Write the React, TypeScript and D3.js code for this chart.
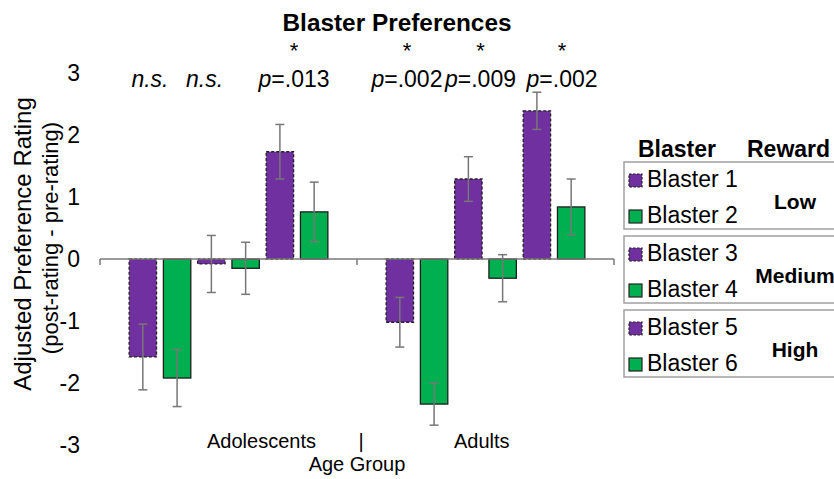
import React from 'react';
import * as d3 from 'd3';

// chart data
const groups = ['Adolescents', 'Adults'];
const blasters = ['Blaster 1', 'Blaster 2', 'Blaster 3', 'Blaster 4', 'Blaster 5', 'Blaster 6'];
const adolescentMeans = [-1.58, -1.92, -0.08, -0.15, 1.73, 0.76];
const adolescentErrors = [0.53, 0.46, 0.46, 0.42, 0.44, 0.48];
const adultMeans = [-1.02, -2.34, 1.29, -0.31, 2.39, 0.84];
const adultErrors = [0.40, 0.34, 0.36, 0.38, 0.30, 0.45];
const yTicks = [-3, -2, -1, 0, 1, 2, 3];
const rewards = ['Low', 'Medium', 'High'];
// one annotation per blaster pair, adolescents first
const pLabels = ['n.s.', 'n.s.', '.013', '.002', '.009', '.002'];
const significant = [false, false, true, true, true, true];

const PURPLE = '#7030A0';
const GREEN = '#00B050';
const FONT = '"Liberation Sans", Arial, sans-serif';

const width = 834;
const height = 479;

export default function App() {
  const x0 = d3.scaleBand().domain(groups).range([100, 614]).padding(0);
  const x1 = d3.scaleBand().domain(blasters).range([0, x0.bandwidth()])
    .paddingInner(0.2).paddingOuter(0.85);
  const y = d3.scaleLinear().domain([-3, 3]).range([445, 73]);

  const means = [adolescentMeans, adultMeans];
  const errs = [adolescentErrors, adultErrors];

  const bars = groups.flatMap((g, gi) =>
    blasters.map((b, bi) => ({ g, b, bi, v: means[gi][bi], e: errs[gi][bi] })));

  // small nudges so the annotations sit like the original's text row
  const annDx = [-10, -24, -3, -10, -5, 8];
  const annotations = pLabels.map((label, i) => {
    const g = groups[Math.floor(i / 3)];
    const pair = i % 3;
    const left = x0(g)! + x1(blasters[pair * 2])!;
    const right = x0(g)! + x1(blasters[pair * 2 + 1])! + x1.bandwidth();
    return { label, star: significant[i], cx: (left + right) / 2 + annDx[i] };
  });

  const tickXs = [x0(groups[0])!, x0(groups[1])!, x0(groups[1])! + x0.bandwidth()];
  const mid = x0(groups[1])!;

  const boxTop = 162;
  const boxH = 67;
  const boxGap = 7;

  return (
    <svg width={width} height={height} style={{ position: 'absolute', left: 0, top: 0, background: '#fff' }}
      fontFamily={FONT}>
      {/* title */}
      <text x={397} y={31} textAnchor="middle" fontWeight="bold" fontSize={23}
        textLength={229} lengthAdjust="spacingAndGlyphs">Blaster Preferences</text>

      {/* y axis title */}
      <g transform="translate(31,244) rotate(-90)">
        <text x={0} y={0} textAnchor="middle" fontSize={24}>Adjusted Preference Rating</text>
      </g>
      <g transform="translate(58,238) rotate(-90)">
        <text x={0} y={0} textAnchor="middle" fontSize={22}>(post-rating - pre-rating)</text>
      </g>

      {/* y tick labels */}
      {yTicks.map(t => (
        <text key={t} x={80} y={y(t)} dy="0.36em" textAnchor="end" fontSize={23}>{t}</text>
      ))}

      {/* bars */}
      {bars.map((d, i) => {
        const bx = x0(d.g)! + x1(d.b)!;
        const top = y(Math.max(0, d.v));
        const h = Math.abs(y(d.v) - y(0));
        const purple = d.bi % 2 === 0;
        return (
          <rect key={i} x={bx} y={top} width={x1.bandwidth()} height={h}
            fill={purple ? PURPLE : GREEN}
            stroke={purple ? '#222' : '#1e1e1e'} strokeWidth={1.3}
            strokeDasharray={purple ? '3,2' : undefined} />
        );
      })}

      {/* axis line and ticks */}
      <line x1={x0.range()[0]} x2={x0.range()[1]} y1={y(0)} y2={y(0)} stroke="#7a7a7a" strokeWidth={1.5} />
      {tickXs.map((tx, i) => (
        <line key={i} x1={tx} x2={tx} y1={y(0)} y2={y(0) + 6} stroke="#7a7a7a" strokeWidth={1.5} />
      ))}

      {/* error bars */}
      {bars.map((d, i) => {
        const cx = x0(d.g)! + x1(d.b)! + x1.bandwidth() / 2;
        const hi = y(d.v + d.e);
        const lo = y(d.v - d.e);
        return (
          <g key={i} stroke="#777" strokeWidth={1.5}>
            <line x1={cx} x2={cx} y1={hi} y2={lo} />
            <line x1={cx - 4.5} x2={cx + 4.5} y1={hi} y2={hi} />
            <line x1={cx - 4.5} x2={cx + 4.5} y1={lo} y2={lo} />
          </g>
        );
      })}

      {/* significance annotations */}
      {annotations.map((a, i) => (
        <g key={i}>
          {a.star && <text x={a.cx} y={58} textAnchor="middle" fontSize={22}>*</text>}
          <text x={a.cx} y={87} textAnchor="middle" fontSize={23}>
            {a.label === 'n.s.'
              ? <tspan fontStyle="italic">n.s.</tspan>
              : <><tspan fontStyle="italic">p</tspan><tspan>={a.label}</tspan></>}
          </text>
        </g>
      ))}

      {/* x labels */}
      <text x={mid - 41} y={448} textAnchor="end" fontSize={20}>{groups[0]}</text>
      <text x={mid + 4} y={448} textAnchor="middle" fontSize={20}>|</text>
      <text x={mid + 97} y={448} textAnchor="start" fontSize={20}>{groups[1]}</text>
      <text x={mid} y={471} textAnchor="middle" fontSize={20}>Age Group</text>

      {/* legend */}
      <text x={638} y={157} fontWeight="bold" fontSize={23}>Blaster</text>
      <text x={747} y={157} fontWeight="bold" fontSize={23}>Reward</text>
      {rewards.map((r, ri) => {
        const top = boxTop + ri * (boxH + boxGap);
        return (
          <g key={r}>
            <rect x={624} y={top} width={240} height={boxH} fill="none" stroke="#a0a0a0" strokeWidth={1.5} />
            {[0, 1].map(k => {
              const name = blasters[ri * 2 + k];
              const base = top + (k === 0 ? 25 : 61);
              const purple = k === 0;
              return (
                <g key={name}>
                  <rect x={629} y={base - 13} width={13} height={13}
                    fill={purple ? PURPLE : GREEN} stroke="#222" strokeWidth={1.2}
                    strokeDasharray={purple ? '2.5,1.5' : undefined} />
                  <text x={647} y={base} fontSize={23}>{name}</text>
                </g>
              );
            })}
            <text x={795} y={top + boxH / 2 + 13} textAnchor="middle" fontWeight="bold" fontSize={21}>{r}</text>
          </g>
        );
      })}
    </svg>
  );
}
